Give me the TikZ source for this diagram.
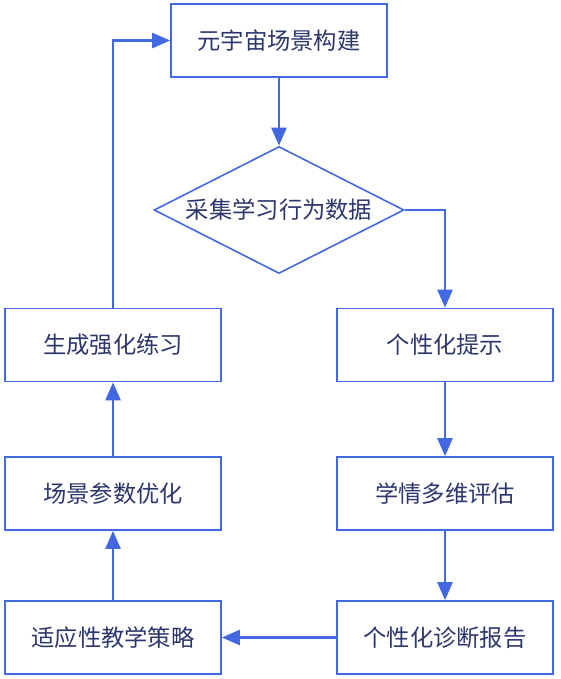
\documentclass[tikz,border=0pt]{standalone}
\usepackage{fontspec}
\newfontfamily\cjk{Noto Sans CJK SC}
\usetikzlibrary{arrows.meta,shapes.geometric}
\definecolor{lineblue}{RGB}{66,105,225}
\definecolor{txt}{RGB}{45,55,110}
\begin{document}
\begin{tikzpicture}[x=1pt,y=-1pt,
  box/.style={draw=lineblue,line width=1.6pt,fill=white,minimum width=216pt,minimum height=73pt,inner sep=0pt,text=txt,font=\cjk\fontsize{23.3}{27}\selectfont},
  dia/.style={diamond,draw=lineblue,line width=1.6pt,fill=white,minimum width=250pt,minimum height=127pt,aspect=2,inner sep=0pt,text=txt,font=\cjk\fontsize{23.3}{27}\selectfont},
  conn/.style={draw=lineblue,line width=2.4pt,-{Triangle[length=18pt,width=15pt]}}]
\useasboundingbox (0,0) rectangle (561,679);
\node[box] (top) at (279,40.5) {元宇宙场景构建};
\node[dia] (collect) at (279,210) {采集学习行为数据};
\node[box] (hint) at (445,345) {个性化提示};
\node[box] (eval) at (445,493.5) {学情多维评估};
\node[box] (report) at (445,637.5) {个性化诊断报告};
\node[box] (strategy) at (113,637.5) {适应性教学策略};
\node[box] (optim) at (113,493.5) {场景参数优化};
\node[box] (practice) at (113,345) {生成强化练习};
\draw[conn] (top) -- (collect);
\draw[conn] (collect.east) -| (hint.north);
\draw[conn] (hint) -- (eval);
\draw[conn] (eval) -- (report);
\draw[conn] (report) -- (strategy);
\draw[conn] (strategy) -- (optim);
\draw[conn] (optim) -- (practice);
\draw[conn] (practice.north) |- (top.west);
\end{tikzpicture}
\end{document}
